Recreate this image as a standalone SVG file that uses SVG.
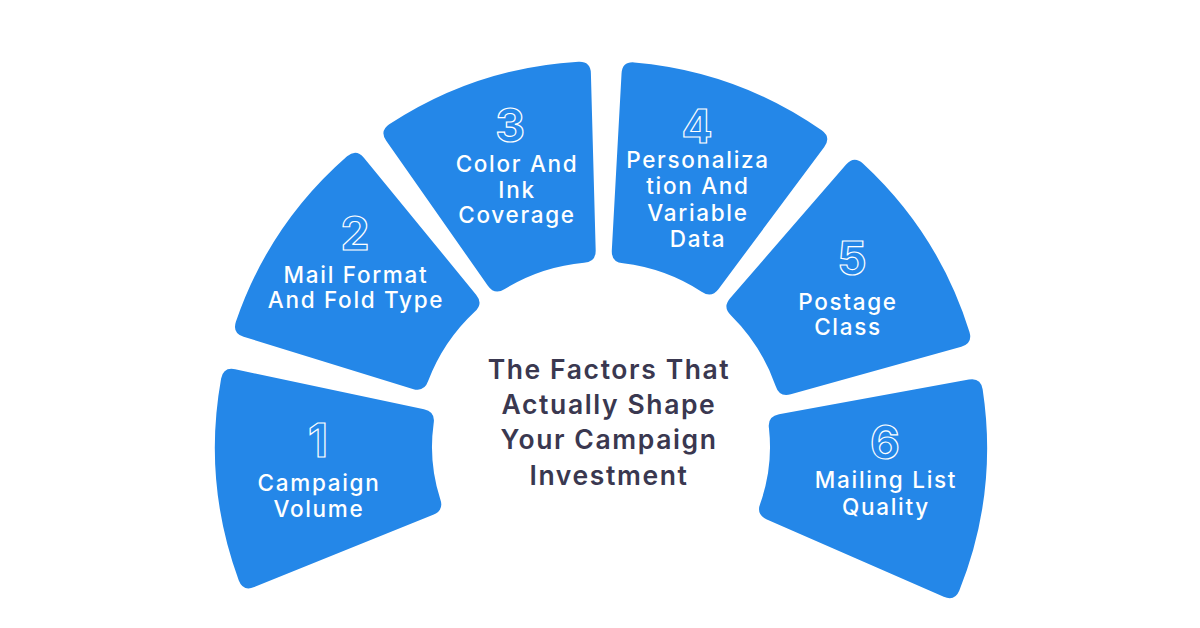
<svg xmlns="http://www.w3.org/2000/svg" width="1200" height="628" viewBox="0 0 1200 628">
<style>
.seg{fill:#2487E8}
.lbl{font-family:Inter,"Open Sans",sans-serif;font-weight:500;font-size:22.5px;letter-spacing:1.7px;fill:#fff;text-anchor:middle}
.num{font-family:Inter,"Open Sans",sans-serif;font-weight:700;font-size:46px;fill:none;stroke:#fff;stroke-width:1.2;text-anchor:middle}
.title{font-family:Inter,"Open Sans",sans-serif;font-weight:600;font-size:26.5px;letter-spacing:1.6px;fill:#3A3850;text-anchor:middle}
</style>
<defs>
<path id="segA" d="M -107.79,-358.13 Q -111.25,-369.62 -99.70,-372.90 A 386 386 0 0 1 99.70,-372.90 Q 111.25,-369.62 107.79,-358.13 L 56.78,-188.64 Q 53.32,-177.15 41.72,-180.23 A 185 185 0 0 0 -41.72,-180.23 Q -53.32,-177.15 -56.78,-188.64 Z"/>
<path id="segB" d="M -109.35,-357.66 Q -112.86,-369.13 -101.33,-372.46 A 386 386 0 0 1 101.33,-372.46 Q 112.86,-369.13 109.35,-357.66 L 52.92,-173.09 Q 49.41,-161.62 37.82,-164.71 A 169 169 0 0 0 -37.82,-164.71 Q -49.41,-161.62 -52.92,-173.09 Z"/>
</defs>
<rect width="1200" height="628" fill="#fff"/>
<g id="node1">
<use href="#segB" class="seg" transform="translate(601 447) rotate(-95)"/>
<text class="num" x="318" y="457">1</text>
<text class="lbl" x="319" y="491">Campaign</text>
<text class="lbl" x="319" y="517">Volume</text>
</g>
<g id="node2">
<use href="#segA" class="seg" transform="translate(601 447) rotate(-56.1)"/>
<text class="num" x="355" y="250">2</text>
<text class="lbl" x="356" y="283">Mail Format</text>
<text class="lbl" x="356" y="308">And Fold Type</text>
</g>
<g id="node3">
<use href="#segA" class="seg" transform="translate(601 447) rotate(-18.3)"/>
<text class="num" x="510" y="142">3</text>
<text class="lbl" x="517" y="172">Color And</text>
<text class="lbl" x="517" y="198">Ink</text>
<text class="lbl" x="517" y="223">Coverage</text>
</g>
<g id="node4">
<use href="#segA" class="seg" transform="translate(601 447) rotate(19.9)"/>
<text class="num" x="697" y="143">4</text>
<text class="lbl" x="698" y="168">Personaliza</text>
<text class="lbl" x="698" y="194">tion And</text>
<text class="lbl" x="698" y="221">Variable</text>
<text class="lbl" x="698" y="247">Data</text>
</g>
<g id="node5">
<use href="#segA" class="seg" transform="translate(601 447) rotate(57.7)"/>
<text class="num" x="852" y="275">5</text>
<text class="lbl" x="848" y="310">Postage</text>
<text class="lbl" x="848" y="335">Class</text>
</g>
<g id="node6">
<use href="#segB" class="seg" transform="translate(601 447) rotate(96.6)"/>
<text class="num" x="885" y="459">6</text>
<text class="lbl" x="886" y="488">Mailing List</text>
<text class="lbl" x="886" y="515">Quality</text>
</g>
<g id="center">
<text class="title" x="609" y="379">The Factors That</text>
<text class="title" x="609" y="414">Actually Shape</text>
<text class="title" x="609" y="449">Your Campaign</text>
<text class="title" x="609" y="485">Investment</text>
</g>
<g id="connectors"/>
</svg>
